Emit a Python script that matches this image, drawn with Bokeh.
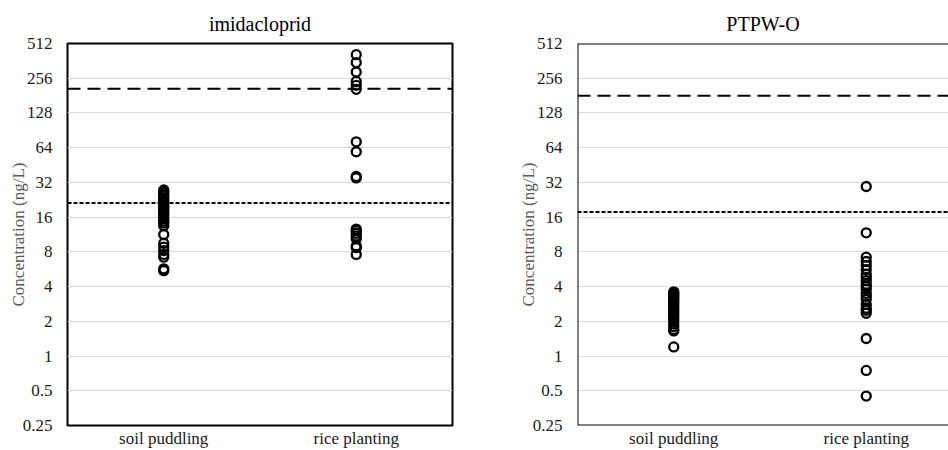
from bokeh.plotting import figure
from bokeh.layouts import row
from bokeh.models import Span, FixedTicker, Range1d, CustomJSTickFormatter, ColumnDataSource
from bokeh.embed import file_html
from bokeh.resources import INLINE

# ---------------- data ----------------
categories = ["soil puddling", "rice planting"]
y_ticks = [0.25, 0.5, 1, 2, 4, 8, 16, 32, 64, 128, 256, 512]

imi_soil = [27.5, 26.5, 25.5, 24.6, 23.6, 22.8, 22.0, 21.2, 20.4, 19.6, 18.9, 18.2,
            17.5, 16.8, 16.1, 15.5, 14.8, 14.2, 13.5, 11.3, 9.5, 8.8, 8.2, 7.6, 7.2,
            5.7, 5.5]
imi_rice = [410, 350, 290, 240, 222, 205, 72, 59, 36, 35,
            12.6, 12.2, 11.6, 11.0, 10.4, 9.0, 8.7, 7.6]
ptpw_soil = [3.6, 3.5, 3.4, 3.3, 3.2, 3.1, 3.0, 2.9, 2.8, 2.7, 2.6, 2.5, 2.4, 2.3,
             2.2, 2.1, 2.0, 1.9, 1.8, 1.7, 1.65, 1.2]
ptpw_rice = [29.5, 11.7, 7.2, 6.6, 6.1, 5.6, 5.1, 4.8, 4.5, 4.2, 4.0, 3.8, 3.5, 3.3,
             3.1, 2.8, 2.6, 2.5, 2.35, 1.42, 0.75, 0.45]
imi_limits = [208, 21.2]     # long dash, short dash
ptpw_limits = [180, 17.7]

FONT = "Liberation Serif"


def make_panel(title, soil, rice, limits, width, bl, br, x_end, full_outline):
    xs = [categories.index("soil puddling") + 0.5] * len(soil) + \
         [categories.index("rice planting") + 0.5] * len(rice)
    src = ColumnDataSource(dict(x=xs, y=list(soil) + list(rice)))
    p = figure(width=width, height=450, y_axis_type="log",
               x_range=Range1d(0, x_end), y_range=Range1d(y_ticks[0], y_ticks[-1]),
               output_backend="svg", toolbar_location=None,
               min_border_left=bl, min_border_right=br,
               min_border_top=43, min_border_bottom=24)
    p.title.text = title
    p.title.align = "center"
    p.title.text_font = FONT
    p.title.text_font_size = "20px"
    p.title.text_font_style = "normal"
    p.title.text_color = "#000000"
    p.title.standoff = 18

    p.xgrid.visible = False
    p.ygrid.ticker = FixedTicker(ticks=y_ticks)
    p.ygrid.grid_line_color = "#d9d9d9"
    p.ygrid.grid_line_width = 1

    ya = p.yaxis[0]
    ya.ticker = FixedTicker(ticks=y_ticks)
    ya.formatter = CustomJSTickFormatter(code="return String(tick);")
    ya.major_tick_line_color = None
    ya.minor_tick_line_color = None
    ya.major_tick_out = 0
    ya.minor_tick_out = 0
    ya.major_tick_in = 0
    ya.axis_line_color = None
    ya.major_label_text_font = FONT
    ya.major_label_text_font_size = "17px"
    ya.major_label_text_color = "#1a1a1a"
    ya.major_label_standoff = 15
    ya.axis_label = "Concentration (ng/L)"
    ya.axis_label_text_font = FONT
    ya.axis_label_text_font_size = "17px"
    ya.axis_label_text_font_style = "normal"
    ya.axis_label_text_color = "#595959"
    ya.axis_label_standoff = -8

    xa = p.xaxis[0]
    xa.ticker = FixedTicker(ticks=[i + 0.5 for i in range(len(categories))])
    xa.major_label_overrides = {i + 0.5: c for i, c in enumerate(categories)}
    xa.major_tick_line_color = None
    xa.minor_tick_line_color = None
    xa.major_tick_out = 0
    xa.minor_tick_out = 0
    xa.major_tick_in = 0
    xa.axis_line_color = None
    xa.major_label_text_font = FONT
    xa.major_label_text_font_size = "17px"
    xa.major_label_text_color = "#1a1a1a"
    xa.major_label_standoff = 3

    if full_outline:
        p.outline_line_color = "black"
        p.outline_line_width = 2
        p.outline_line_alpha = 1
    else:
        p.outline_line_color = None
        p.add_layout(Span(location=y_ticks[-1], dimension="width", line_color="black", line_width=2))
        p.add_layout(Span(location=y_ticks[0], dimension="width", line_color="black", line_width=2))
        p.add_layout(Span(location=0, dimension="height", line_color="black", line_width=2))

    p.add_layout(Span(location=limits[0], dimension="width", line_color="black",
                      line_width=2, line_dash="13 7"))
    p.add_layout(Span(location=limits[1], dimension="width", line_color="black",
                      line_width=2, line_dash="4 2"))

    p.scatter("x", "y", source=src, marker="circle", size=9, fill_color=None,
              line_color="black", line_width=2.3)
    return p


p1 = make_panel("imidacloprid", imi_soil, imi_rice, imi_limits, 470, 67, 18, 2.0, True)
p2 = make_panel("PTPW-O", ptpw_soil, ptpw_rice, ptpw_limits, 478, 107, 0, 2.0 * 371 / 385, False)

layout = row(p1, p2)
open("out.html", "w").write(file_html(layout, INLINE))
